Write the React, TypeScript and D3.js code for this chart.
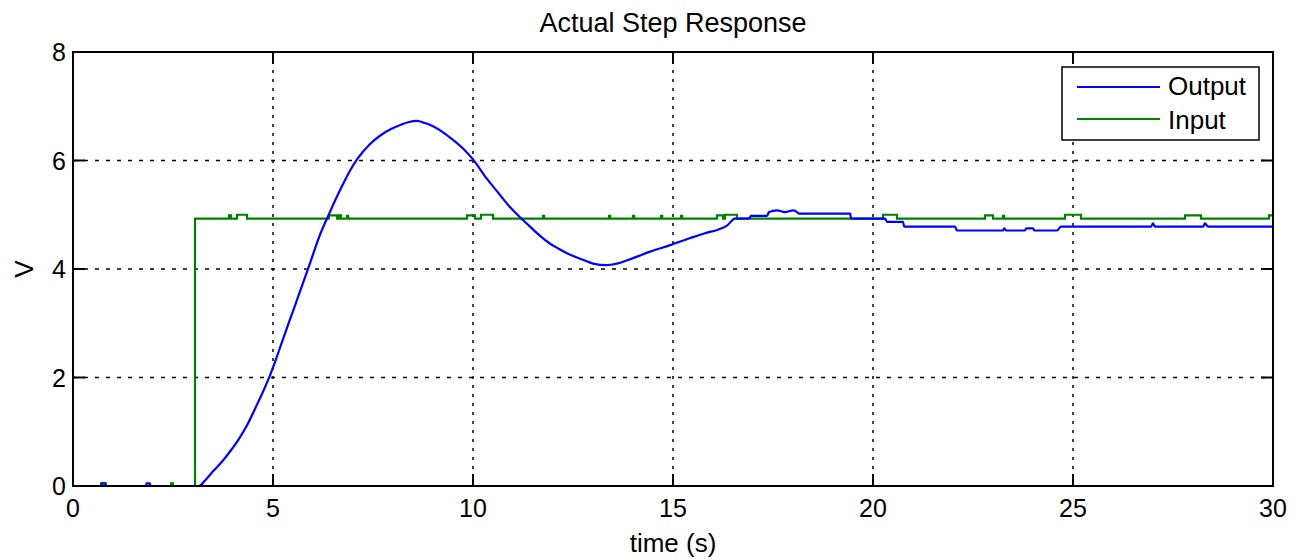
import React from "react";
import * as d3 from "d3";

// time (s) / volts
const outputData: [number, number][] = [
  [0, 0], [0.7, 0], [0.72, 0.05], [0.8, 0.05], [0.82, 0],
  [1.82, 0], [1.84, 0.05], [1.92, 0.05], [1.94, 0],
  [3.15, 0], [3.3, 0.1], [3.5, 0.27], [3.75, 0.47], [3.93, 0.64],
  [4.15, 0.87], [4.35, 1.12], [4.6, 1.5], [4.93, 2.05], [5.2, 2.6],
  [5.4, 3.02], [5.6, 3.43], [5.88, 4.01], [6.18, 4.64], [6.38, 4.98],
  [6.68, 5.46], [6.9, 5.78], [7.1, 6.02], [7.42, 6.3], [7.7, 6.47],
  [7.95, 6.58], [8.2, 6.66], [8.4, 6.71], [8.6, 6.73], [8.8, 6.69],
  [9.0, 6.63], [9.25, 6.52], [9.5, 6.38], [9.75, 6.22], [10.0, 6.02],
  [10.35, 5.66], [10.68, 5.36], [10.9, 5.16], [11.18, 4.95], [11.4, 4.8],
  [11.6, 4.66], [11.92, 4.47], [12.15, 4.37], [12.35, 4.29], [12.75, 4.17],
  [13.0, 4.1], [13.35, 4.07], [13.6, 4.1], [14.0, 4.2], [14.43, 4.32],
  [14.93, 4.44], [15.43, 4.57], [15.8, 4.66], [16.1, 4.72], [16.35, 4.8],
  [16.55, 4.93], [16.9, 4.93], [16.95, 4.98], [17.35, 4.98], [17.4, 5.05],
  [17.6, 5.08], [17.8, 5.05], [18.0, 5.08], [18.1, 5.05], [18.15, 5.02],
  [19.43, 5.02], [19.45, 4.93], [20.3, 4.93], [20.35, 4.87], [20.75, 4.87],
  [20.78, 4.78], [22.05, 4.78], [22.1, 4.71], [23.25, 4.71], [23.28, 4.75],
  [23.33, 4.71], [23.8, 4.71], [23.83, 4.75], [24.0, 4.75], [24.03, 4.71],
  [24.6, 4.71], [24.7, 4.78], [26.95, 4.78], [27.0, 4.84], [27.05, 4.78],
  [28.25, 4.78], [28.3, 4.84], [28.38, 4.78], [30, 4.78],
];

const inputData: [number, number][] = [
  [0, 0], [0.7, 0.05], [0.82, 0], [2.45, 0.05], [2.5, 0],
  [3.05, 4.93], [3.9, 4.99], [3.95, 4.93], [4.1, 5.0], [4.35, 4.93],
  [6.4, 4.99], [6.6, 4.93], [6.65, 4.99], [6.7, 4.93], [6.85, 4.98], [6.88, 4.93],
  [9.85, 4.99], [10.05, 4.93], [10.2, 5.0], [10.5, 4.93],
  [11.75, 4.98], [11.78, 4.93], [13.4, 4.98], [13.43, 4.93],
  [14.0, 4.98], [14.03, 4.93], [14.7, 4.98], [14.73, 4.93],
  [15.2, 4.98], [15.23, 4.93], [16.1, 4.99], [16.25, 4.93], [16.3, 5.0], [16.6, 4.93],
  [20.25, 5.0], [20.6, 4.93], [22.8, 4.99], [23.0, 4.93], [23.25, 4.98], [23.28, 4.93],
  [24.8, 5.0], [25.2, 4.93], [27.8, 4.99], [28.2, 4.93], [29.9, 4.99], [30, 4.99],
];

const xTicks = [0, 5, 10, 15, 20, 25, 30];
const yTicks = [0, 2, 4, 6, 8];
const seriesNames = ["Output", "Input"];
const seriesColors = ["#0000ff", "#008000"];

const W = 1306, H = 560;
const margin = { top: 52, right: 33, bottom: 74, left: 73 };
const font = "'Liberation Sans', Arial, sans-serif";

export default function App() {
  const x = d3.scaleLinear().domain([0, 30]).range([margin.left, W - margin.right]);
  const y = d3.scaleLinear().domain([0, 8]).range([H - margin.bottom, margin.top]);

  const outLine = d3
    .line<[number, number]>()
    .x((d) => x(d[0]))
    .y((d) => y(d[1]))
    .curve(d3.curveMonotoneX);
  const inLine = d3
    .line<[number, number]>()
    .x((d) => x(d[0]))
    .y((d) => y(d[1]))
    .curve(d3.curveStepAfter);

  const x0 = x(0), x1 = x(30), y0 = y(0), y1 = y(8);
  const tick = 12;

  // legend box
  const lx = 1062, ly = 67, lw = 197, lh = 73;

  return (
    <svg
      width={W}
      height={H}
      style={{ position: "absolute", left: 0, top: 0, background: "#fff" }}
      fontFamily={font}
    >
      <rect width={W} height={H} fill="#fff" />
      {/* grid */}
      {xTicks.slice(1, -1).map((t) => (
        <line key={"gx" + t} x1={x(t)} x2={x(t)} y1={y1} y2={y0}
          stroke="#000" strokeWidth={1.5} strokeDasharray="3,6" />
      ))}
      {yTicks.slice(1, -1).map((t) => (
        <line key={"gy" + t} x1={x0} x2={x1} y1={y(t)} y2={y(t)}
          stroke="#000" strokeWidth={1.5} strokeDasharray="4,7" />
      ))}

      {/* data */}
      <path d={inLine(inputData) || ""} fill="none" stroke={seriesColors[1]} strokeWidth={2.2} />
      <path d={outLine(outputData) || ""} fill="none" stroke={seriesColors[0]} strokeWidth={2.2} />

      {/* axes box and inward ticks */}
      <rect x={x0} y={y1} width={x1 - x0} height={y0 - y1} fill="none" stroke="#000" strokeWidth={2} />
      {xTicks.map((t) => (
        <g key={"tx" + t}>
          <line x1={x(t)} x2={x(t)} y1={y0} y2={y0 - tick} stroke="#000" strokeWidth={2} />
          <line x1={x(t)} x2={x(t)} y1={y1} y2={y1 + tick} stroke="#000" strokeWidth={2} />
          <text x={x(t)} y={y0 + 31} fontSize={25} textAnchor="middle" fill="#000">{t}</text>
        </g>
      ))}
      {yTicks.map((t) => (
        <g key={"ty" + t}>
          <line x1={x0} x2={x0 + tick} y1={y(t)} y2={y(t)} stroke="#000" strokeWidth={2} />
          <line x1={x1} x2={x1 - tick} y1={y(t)} y2={y(t)} stroke="#000" strokeWidth={2} />
          <text x={x0 - 7} y={y(t) + 9} fontSize={25} textAnchor="end" fill="#000">{t}</text>
        </g>
      ))}

      {/* labels */}
      <text x={(x0 + x1) / 2} y={32} fontSize={27} textAnchor="middle" fill="#000">
        Actual Step Response
      </text>
      <text x={(x0 + x1) / 2} y={552} fontSize={26} textAnchor="middle" fill="#000">
        time (s)
      </text>
      <text transform={`translate(33, ${(y0 + y1) / 2}) rotate(-90)`} fontSize={26}
        textAnchor="middle" fill="#000">
        V
      </text>

      {/* legend */}
      <rect x={lx} y={ly} width={lw} height={lh} fill="#fff" stroke="#000" strokeWidth={1.5} />
      {seriesNames.map((name, i) => (
        <g key={name}>
          <line x1={lx + 15} x2={lx + 98} y1={ly + 20 + i * 32} y2={ly + 20 + i * 32}
            stroke={seriesColors[i]} strokeWidth={2} />
          <text x={lx + 106} y={ly + 28 + i * 34} fontSize={26} fill="#000">{name}</text>
        </g>
      ))}
    </svg>
  );
}
